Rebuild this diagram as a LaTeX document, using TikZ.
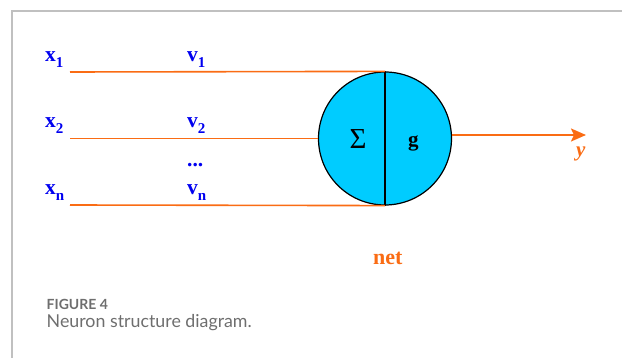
\documentclass[tikz,border=0pt]{standalone}
\usepackage{fontspec}
\setmainfont{Liberation Serif}
\newfontfamily\capfont{Lato}
\usetikzlibrary{arrows.meta}
\definecolor{orng}{RGB}{250,108,20}
\definecolor{lblue}{RGB}{0,0,240}
\definecolor{cyanfill}{RGB}{0,204,255}
\definecolor{framegray}{RGB}{192,192,192}
\definecolor{capgray}{RGB}{110,110,110}
\newcommand\subx[1]{\raisebox{-0.24em}{\fontsize{15}{15}\selectfont #1}}
\tikzset{
  lbl/.style={anchor=base west, inner sep=0pt, text=lblue, font=\fontsize{21.5}{21.5}\selectfont\bfseries},
  inline/.style={draw=orng, line width=1.6pt},
  neuron/.style={circle, draw=black, line width=1.2pt, fill=cyanfill, minimum size=133pt, inner sep=0pt},
}
\begin{document}
\begin{tikzpicture}[x=1pt,y=-1pt]
\useasboundingbox (0,0) rectangle (622,358);
% frame
\coordinate (fb) at (12,358);
\coordinate (fc) at (12,11);
\coordinate (fr) at (622,11);
\draw[framegray, line width=1.5pt] (fb) -- (fc) -- (fr);

% neuron
\node[neuron] (n) at (385,138.5) {};
\draw[black, line width=1.2pt] (n.north) -- (n.south);
\node[inner sep=0pt, font=\fontsize{29}{29}\selectfont] (sig) at (358,139.5) {Σ};
\node[anchor=base west, inner sep=0pt, font=\fontsize{21}{21}\selectfont\bfseries] (g) at (408,147) {g};

% inputs
\coordinate (i1) at (70,72);
\coordinate (i2) at (70,138.5);
\coordinate (i3) at (70,205);
\draw[inline] (i1) -- (n.north);
\draw[inline] (i2) -- (n.west);
\draw[inline] (i3) -- (n.south);

% labels
\node[lbl] (x1) at (45,62) {x\subx{1}};
\node[lbl] (x2) at (45,128) {x\subx{2}};
\node[lbl] (xn) at (45,195) {x\subx{n}};
\node[lbl] (v1) at (187,62) {v\subx{1}};
\node[lbl] (v2) at (187,128) {v\subx{2}};
\node[lbl] (vn) at (187,195) {v\subx{n}};
\node[lbl] (dots) at (187,167) {...};

% output
\coordinate (out) at (586,135);
\draw[draw=orng, line width=2pt, -{Stealth[length=15pt,width=13pt,inset=3pt]}] (out -| n.east) -- (out);
\node[anchor=base west, inner sep=0pt, text=orng, font=\fontsize{21}{21}\selectfont\bfseries\itshape] (y) at (576,157) {y};

\node[anchor=base west, inner sep=0pt, text=orng, font=\fontsize{22}{22}\selectfont\bfseries] (net) at (373,265) {net};

% caption
\node[anchor=base west, inner sep=0pt, text=capgray, font=\capfont\fontsize{14}{14}\selectfont\bfseries] (fig) at (46.5,309.5) {FIGURE 4};
\node[anchor=base west, inner sep=0pt, text=capgray, font=\capfont\fontsize{17.8}{17.8}\selectfont] (cap) at (46.5,327.5) {Neuron structure diagram.};
\end{tikzpicture}
\end{document}
